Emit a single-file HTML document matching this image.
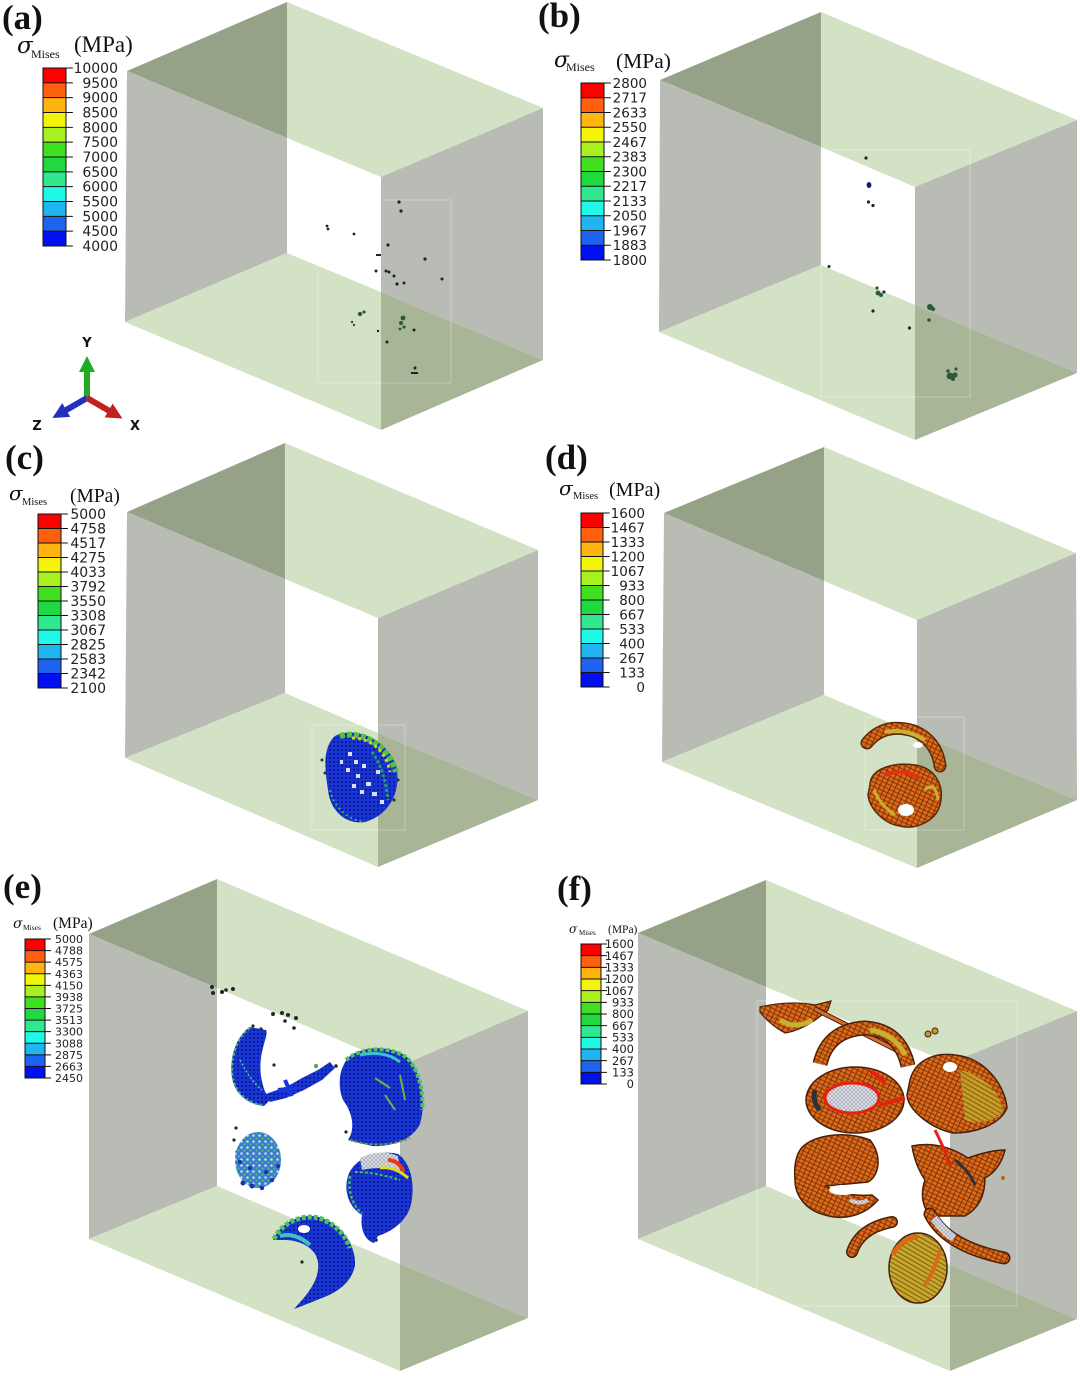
<!DOCTYPE html>
<html><head><meta charset="utf-8"><style>
html,body{margin:0;padding:0;background:#fff;}
svg{display:block;}
.lab{font-family:"Liberation Serif",serif;font-weight:bold;font-size:35px;fill:#111;}
.ser{font-family:"Liberation Serif",serif;fill:#111;}
.sig{font-family:"DejaVu Serif","Liberation Serif",serif;font-style:italic;fill:#111;}
.num{font-family:"DejaVu Sans","Liberation Sans",sans-serif;fill:#222;text-anchor:end;}
</style></head><body>
<svg width="1080" height="1376" viewBox="0 0 1080 1376" xmlns="http://www.w3.org/2000/svg">
<defs>
<g id="lbar">
<rect x="0" y="0" width="1" height="1" fill="#ff0000"/>
<rect x="0" y="1" width="1" height="1" fill="#ff6010"/>
<rect x="0" y="2" width="1" height="1" fill="#ffb410"/>
<rect x="0" y="3" width="1" height="1" fill="#f2f50a"/>
<rect x="0" y="4" width="1" height="1" fill="#a8f020"/>
<rect x="0" y="5" width="1" height="1" fill="#40e020"/>
<rect x="0" y="6" width="1" height="1" fill="#20d840"/>
<rect x="0" y="7" width="1" height="1" fill="#30e890"/>
<rect x="0" y="8" width="1" height="1" fill="#20f8e8"/>
<rect x="0" y="9" width="1" height="1" fill="#20b4f0"/>
<rect x="0" y="10" width="1" height="1" fill="#1e64f0"/>
<rect x="0" y="11" width="1" height="1" fill="#0010f0"/>
<path d="M0 1H1.3M0 2H1.3M0 3H1.3M0 4H1.3M0 5H1.3M0 6H1.3M0 7H1.3M0 8H1.3M0 9H1.3M0 10H1.3M0 11H1.3M1 0H1.3M1 12H1.3" stroke="#111" stroke-width="1" fill="none" vector-effect="non-scaling-stroke"/>
<rect x="0" y="0" width="1" height="12" fill="none" stroke="#111" stroke-width="1" vector-effect="non-scaling-stroke"/>
</g>
<pattern id="vb" width="4" height="4" patternUnits="userSpaceOnUse">
<rect width="4" height="4" fill="#1a36d6"/><circle cx="2" cy="2" r="1.2" fill="#0a1c9a"/>
</pattern>
<pattern id="vo" width="5" height="4" patternUnits="userSpaceOnUse" patternTransform="rotate(25)">
<rect width="5" height="4" fill="#de6a18"/><path d="M0 3.5H5M4.5 0V4" stroke="#6a2a08" stroke-width="0.8"/>
</pattern>
<pattern id="vy" width="4" height="4" patternUnits="userSpaceOnUse" patternTransform="rotate(30)">
<rect width="4" height="4" fill="#c8a82a"/><path d="M0 3.5H4" stroke="#6a4a10" stroke-width="0.8"/>
</pattern>
<pattern id="vm" width="4" height="4" patternUnits="userSpaceOnUse">
<rect width="4" height="4" fill="#d8dce4"/><path d="M0 0L4 4M4 0L0 4" stroke="#8a8e98" stroke-width="0.5"/>
</pattern>
<pattern id="vs" width="6" height="6" patternUnits="userSpaceOnUse">
<rect width="6" height="6" fill="#3a7cc8"/><circle cx="1.5" cy="1.5" r="1.3" fill="#fff" opacity="0.7"/><circle cx="4.5" cy="4.5" r="1.2" fill="#40c070"/>
</pattern>
</defs>

<!-- ===== Panel (a) ===== -->
<polygon points="287,2 543,108 381,177 287,138" fill="#d3e1c4"/>
<polygon points="287,2 127,71 287,138" fill="#95a288"/>
<polygon points="287,138 127,71 125,322 287,253" fill="#b9bcb5"/>
<polygon points="381,177 543,108 543,360 381,292" fill="#b9bcb5"/>
<polygon points="381,292 543,360 381,430" fill="#a8b597"/>
<polygon points="287,253 125,322 381,430 381,292" fill="#d3e1c4"/>
<rect x="318" y="200" width="133" height="183" fill="none" stroke="#fff" stroke-opacity="0.3" stroke-width="1"/>
<g fill="#1c261c">
<circle cx="399" cy="202" r="1.6"/><circle cx="401" cy="211" r="1.6"/><circle cx="327" cy="226" r="1.4"/><circle cx="328" cy="229" r="1.4"/>
<circle cx="354" cy="234" r="1.4"/><circle cx="388" cy="245" r="1.6"/><rect x="376" y="254" width="5" height="2"/><circle cx="425" cy="259" r="1.6"/>
<circle cx="376" cy="271" r="1.5"/><circle cx="386" cy="271" r="1.5"/><circle cx="389" cy="272" r="1.5"/><circle cx="394" cy="276" r="1.5"/>
<circle cx="404" cy="283" r="1.5"/><circle cx="397" cy="284" r="1.6"/><circle cx="442" cy="279" r="1.5"/>
<circle cx="378" cy="331" r="1.2"/><circle cx="387" cy="342" r="1.5"/><circle cx="414" cy="330" r="1.5"/>
<circle cx="415" cy="368" r="1.5"/><rect x="411" y="372" width="7" height="2"/>
</g>
<g fill="#2a5a34">
<circle cx="360" cy="314" r="2.2"/><circle cx="364" cy="312" r="1.6"/><circle cx="352" cy="322" r="1.2"/><circle cx="354" cy="325" r="1.2"/>
<circle cx="403" cy="318" r="2.4"/><circle cx="401" cy="323" r="2"/><circle cx="404" cy="327" r="1.6"/><circle cx="400" cy="329" r="1.4"/>
</g>
<!-- triad -->
<g transform="translate(87,398)">
<g transform="rotate(-90)"><rect x="0" y="-3" width="28" height="6" fill="#22aa22"/><polygon points="26,-8 42,0 26,8" fill="#22aa22"/></g>
<g transform="rotate(150)"><rect x="0" y="-3" width="26" height="6" fill="#2030c0"/><polygon points="24,-8 40,0 24,8" fill="#2030c0"/></g>
<g transform="rotate(30)"><rect x="0" y="-3" width="27" height="6" fill="#c02020"/><polygon points="25,-8 41,0 25,8" fill="#c02020"/></g>
</g>
<g font-family="DejaVu Sans, sans-serif" font-weight="bold" font-size="13" fill="#111" text-anchor="middle">
<text x="87" y="347">Y</text><text x="37" y="430">Z</text><text x="135" y="430">X</text>
</g>
<text class="lab" x="2" y="29">(a)</text>
<text class="sig" x="17" y="53" font-size="23">σ</text>
<text class="ser" x="31" y="58" font-size="12">Mises</text>
<text class="ser" x="74" y="52" font-size="23">(MPa)</text>
<use href="#lbar" transform="translate(43,68) scale(23,14.833)"/>
<g class="num" font-size="14">
<text x="118" y="73">10000</text><text x="118" y="87.8">9500</text><text x="118" y="102.7">9000</text><text x="118" y="117.5">8500</text>
<text x="118" y="132.3">8000</text><text x="118" y="147.2">7500</text><text x="118" y="162">7000</text><text x="118" y="176.8">6500</text>
<text x="118" y="191.7">6000</text><text x="118" y="206.5">5500</text><text x="118" y="221.3">5000</text><text x="118" y="236.2">4500</text>
<text x="118" y="251">4000</text>
</g>

<!-- ===== Panel (b) ===== -->
<polygon points="821,12 1077,120 915,187 821,147" fill="#d3e1c4"/>
<polygon points="821,12 660,80 821,147" fill="#95a288"/>
<polygon points="821,147 660,80 659,332 821,265" fill="#b9bcb5"/>
<polygon points="915,187 1077,120 1077,373 915,305" fill="#b9bcb5"/>
<polygon points="915,305 1077,373 915,440" fill="#a8b597"/>
<polygon points="821,265 659,332 915,440 915,305" fill="#d3e1c4"/>
<rect x="821" y="150" width="149" height="247" fill="none" stroke="#fff" stroke-opacity="0.3" stroke-width="1"/>
<g fill="#1c261c">
<circle cx="866" cy="158" r="1.6"/><ellipse cx="869" cy="185" rx="2.4" ry="3" fill="#10206a"/><circle cx="868.5" cy="202" r="1.6"/><circle cx="873" cy="205.5" r="1.6"/>
<circle cx="829" cy="266.5" r="1.5"/><circle cx="884" cy="292" r="1.5"/><circle cx="873" cy="311" r="1.6"/><circle cx="909.5" cy="328" r="1.6"/>
</g>
<g fill="#2a5a34">
<circle cx="877" cy="288" r="1.6"/><circle cx="878" cy="293" r="2.4"/><circle cx="881" cy="295" r="2"/>
<circle cx="930" cy="307" r="3"/><circle cx="933" cy="309" r="2.2"/><circle cx="929" cy="320" r="1.8"/>
<circle cx="950" cy="376" r="3.4"/><circle cx="955" cy="375" r="2.6"/><circle cx="948" cy="371" r="1.8"/><circle cx="956" cy="369" r="1.6"/><circle cx="953" cy="379" r="2"/>
</g>
<text class="lab" x="538" y="27">(b)</text>
<text class="sig" x="554" y="67" font-size="22">σ</text>
<text class="ser" x="566" y="71" font-size="12">Mises</text>
<text class="ser" x="616" y="68" font-size="21.5">(MPa)</text>
<use href="#lbar" transform="translate(581,83) scale(23,14.75)"/>
<g class="num" font-size="13.5">
<text x="647" y="87.9">2800</text><text x="647" y="102.7">2717</text><text x="647" y="117.4">2633</text><text x="647" y="132.2">2550</text>
<text x="647" y="146.9">2467</text><text x="647" y="161.7">2383</text><text x="647" y="176.4">2300</text><text x="647" y="191.2">2217</text>
<text x="647" y="205.9">2133</text><text x="647" y="220.7">2050</text><text x="647" y="235.4">1967</text><text x="647" y="250.2">1883</text>
<text x="647" y="264.9">1800</text>
</g>

<!-- ===== Panel (c) ===== -->
<polygon points="285,443 538,550 378,618 285,579" fill="#d3e1c4"/>
<polygon points="285,443 127,512 285,579" fill="#95a288"/>
<polygon points="285,579 127,512 125,758 285,693" fill="#b9bcb5"/>
<polygon points="378,618 538,550 538,800 378,733" fill="#b9bcb5"/>
<polygon points="378,733 538,800 378,867" fill="#a8b597"/>
<polygon points="285,693 125,758 378,867 378,733" fill="#d3e1c4"/>
<rect x="312" y="725" width="93" height="105" fill="none" stroke="#fff" stroke-opacity="0.3" stroke-width="1"/>
<path d="M335,736 C355,726 385,738 396,765 C402,790 390,815 365,822 C345,825 330,810 328,790 C325,770 322,748 335,736 Z" fill="url(#vb)"/>
<path d="M340,736 C362,730 388,745 396,772" fill="none" stroke="#58c040" stroke-width="6" stroke-dasharray="5 2"/>
<path d="M352,738 C372,738 386,752 390,772" fill="none" stroke="#c8d830" stroke-width="3" stroke-dasharray="3 3"/>
<g fill="#fff" opacity="0.85">
<rect x="348" y="752" width="4" height="4"/><rect x="354" y="760" width="4" height="4"/><rect x="346" y="768" width="4" height="4"/><rect x="356" y="774" width="4" height="4"/>
<rect x="362" y="764" width="4" height="4"/><rect x="352" y="784" width="4" height="4"/><rect x="366" y="782" width="5" height="4"/><rect x="372" y="792" width="5" height="4"/>
<rect x="360" y="790" width="4" height="4"/><rect x="340" y="760" width="3" height="4"/><rect x="376" y="770" width="4" height="4"/><rect x="380" y="800" width="4" height="4"/>
</g>
<path d="M330,790 C334,808 348,820 365,822" fill="none" stroke="#40a878" stroke-width="2" stroke-dasharray="2 3"/>
<path d="M372,752 Q385,770 388,800" fill="none" stroke="#2a9a70" stroke-width="3" stroke-dasharray="3 2"/>
<g fill="#1c3a3a"><circle cx="322" cy="760" r="1.5"/><circle cx="325" cy="773" r="1.5"/><circle cx="394" cy="800" r="1.6"/><circle cx="398" cy="780" r="1.5"/></g>
<text class="lab" x="5" y="469">(c)</text>
<text class="sig" x="9" y="500" font-size="20">σ</text>
<text class="ser" x="22" y="505" font-size="10.5">Mises</text>
<text class="ser" x="70" y="502" font-size="19.5">(MPa)</text>
<use href="#lbar" transform="translate(38,514) scale(23,14.5)"/>
<g class="num" font-size="14">
<text x="106" y="519">5000</text><text x="106" y="533.5">4758</text><text x="106" y="548">4517</text><text x="106" y="562.5">4275</text>
<text x="106" y="577">4033</text><text x="106" y="591.5">3792</text><text x="106" y="606">3550</text><text x="106" y="620.5">3308</text>
<text x="106" y="635">3067</text><text x="106" y="649.5">2825</text><text x="106" y="664">2583</text><text x="106" y="678.5">2342</text>
<text x="106" y="693">2100</text>
</g>

<!-- ===== Panel (d) ===== -->
<polygon points="824,447 1076,553 917,620 824,581" fill="#d3e1c4"/>
<polygon points="824,447 664,513 824,581" fill="#95a288"/>
<polygon points="824,581 664,513 662,762 824,695" fill="#b9bcb5"/>
<polygon points="917,620 1076,553 1077,800 917,734" fill="#b9bcb5"/>
<polygon points="917,734 1077,800 917,868" fill="#a8b597"/>
<polygon points="824,695 662,762 917,868 917,734" fill="#d3e1c4"/>
<rect x="865" y="717" width="99" height="113" fill="none" stroke="#fff" stroke-opacity="0.3" stroke-width="1"/>
<path d="M867,743 Q884,722 914,731 Q937,741 940,766" fill="none" stroke="#5a2808" stroke-width="13" stroke-linecap="round"/>
<path d="M867,743 Q884,722 914,731 Q937,741 940,766" fill="none" stroke="url(#vo)" stroke-width="10" stroke-linecap="round"/>
<path d="M885,732 Q905,728 925,740" fill="none" stroke="#c8b030" stroke-width="4"/>
<path d="M870,785 C870,768 895,762 915,765 C935,768 945,785 940,805 C935,822 915,830 900,826 C885,824 870,810 868,795 Z" fill="url(#vo)" stroke="#5a2808" stroke-width="1.5"/>
<path d="M885,775 Q902,768 920,778" fill="none" stroke="#e83010" stroke-width="4"/>
<path d="M874,790 Q880,805 895,815" fill="none" stroke="#c8b030" stroke-width="3"/>
<ellipse cx="906" cy="810" rx="8" ry="6" fill="#fff"/>
<ellipse cx="918" cy="745" rx="5" ry="3" fill="#fff"/>
<path d="M925,790 Q935,780 938,800" fill="none" stroke="#c8b030" stroke-width="3"/>
<text class="lab" x="545" y="469">(d)</text>
<text class="sig" x="559" y="495" font-size="20">σ</text>
<text class="ser" x="573" y="499" font-size="10.5">Mises</text>
<text class="ser" x="609" y="496" font-size="20">(MPa)</text>
<use href="#lbar" transform="translate(581,513) scale(22,14.5)"/>
<g class="num" font-size="13.5">
<text x="645" y="517.9">1600</text><text x="645" y="532.4">1467</text><text x="645" y="546.9">1333</text><text x="645" y="561.4">1200</text>
<text x="645" y="575.9">1067</text><text x="645" y="590.4">933</text><text x="645" y="604.9">800</text><text x="645" y="619.4">667</text>
<text x="645" y="633.9">533</text><text x="645" y="648.4">400</text><text x="645" y="662.9">267</text><text x="645" y="677.4">133</text>
<text x="645" y="691.9">0</text>
</g>

<!-- ===== Panel (e) ===== -->
<polygon points="217,879 528,1011 400,1066 217,988" fill="#d3e1c4"/>
<polygon points="217,879 89,934 217,988" fill="#95a288"/>
<polygon points="217,988 89,934 89,1239 217,1186" fill="#b9bcb5"/>
<polygon points="400,1066 528,1011 528,1318 400,1264" fill="#b9bcb5"/>
<polygon points="400,1264 528,1318 400,1371" fill="#a8b597"/>
<polygon points="217,1186 89,1239 400,1371 400,1264" fill="#d3e1c4"/>
<g fill="#1c2a22">
<circle cx="212" cy="987" r="2"/><circle cx="213" cy="993" r="2"/><circle cx="222" cy="992" r="2"/><circle cx="226" cy="990" r="1.8"/><circle cx="233" cy="989" r="2"/>
<circle cx="273" cy="1014" r="2"/><circle cx="282" cy="1013" r="2"/><circle cx="288" cy="1015" r="2"/><circle cx="296" cy="1018" r="2"/><circle cx="285" cy="1021" r="1.8"/><circle cx="294" cy="1028" r="1.8"/>
<circle cx="253" cy="1026" r="1.6"/><circle cx="261" cy="1029" r="1.6"/>
<circle cx="274" cy="1065" r="1.6"/><circle cx="316" cy="1066" r="1.8"/><circle cx="336" cy="1066" r="1.8"/>
<circle cx="234" cy="1140" r="1.6"/><circle cx="237" cy="1152" r="1.6"/><circle cx="236" cy="1128" r="1.6"/>
<circle cx="354" cy="1117" r="1.8"/><circle cx="346" cy="1132" r="1.6"/><circle cx="302" cy="1262" r="1.6"/><circle cx="376" cy="1240" r="1.8"/><circle cx="388" cy="1228" r="1.8"/>
</g>
<circle cx="316" cy="1066" r="2" fill="#50a050"/>
<path d="M250,1027 C236,1036 229,1058 232,1078 C235,1094 248,1104 264,1106 L270,1100 C262,1090 258,1070 262,1052 C264,1042 268,1034 266,1030 Z" fill="url(#vb)"/>
<path d="M250,1028 C236,1038 230,1060 233,1078 C236,1094 248,1103 262,1105" fill="none" stroke="#48b070" stroke-width="2" stroke-dasharray="3 2"/>
<path d="M240,1060 Q250,1080 262,1090" fill="none" stroke="#40c8b0" stroke-width="1.5" stroke-dasharray="2 2"/>
<path d="M266,1094 L288,1086 L302,1078 L318,1070 L330,1062 L335,1068 L322,1080 L304,1090 L286,1098 L270,1102 Z" fill="url(#vb)"/>
<path d="M285,1080 L292,1096 M278,1090 L296,1088" stroke="#1a36d6" stroke-width="4"/>
<ellipse cx="258" cy="1160" rx="23" ry="28" fill="url(#vs)"/>
<g fill="#1a30b0"><circle cx="243" cy="1183" r="2.5"/><circle cx="252" cy="1186" r="2.5"/><circle cx="262" cy="1188" r="2.2"/><circle cx="272" cy="1180" r="2.2"/><circle cx="278" cy="1166" r="2"/><circle cx="240" cy="1162" r="2"/><circle cx="250" cy="1168" r="2"/><circle cx="266" cy="1172" r="2"/></g>
<path d="M348,1058 C360,1046 392,1044 408,1058 C422,1074 426,1104 420,1124 C412,1140 392,1147 372,1146 L348,1140 C356,1128 352,1112 343,1100 C338,1088 338,1070 348,1058 Z" fill="url(#vb)"/>
<path d="M346,1060 C360,1047 392,1045 408,1059 C420,1072 424,1095 422,1110" fill="none" stroke="#50c060" stroke-width="4" stroke-dasharray="4 2"/>
<path d="M360,1055 Q385,1050 400,1062" fill="none" stroke="#40c0d0" stroke-width="3"/>
<path d="M375,1078 L390,1088 M400,1075 L405,1100 M385,1095 L395,1110" stroke="#70b050" stroke-width="2"/>
<path d="M350,1140 Q380,1150 410,1138" fill="none" stroke="#60a040" stroke-width="2" stroke-dasharray="3 2"/>
<path d="M348,1176 C354,1158 378,1149 398,1154 C412,1164 416,1188 410,1208 C404,1224 390,1232 378,1236 L374,1243 C364,1240 360,1228 362,1215 C350,1208 343,1192 348,1176 Z" fill="url(#vb)"/>
<path d="M360,1158 Q380,1148 398,1156 L400,1170 Q380,1166 362,1170 Z" fill="url(#vm)"/>
<path d="M388,1160 Q398,1160 404,1172" fill="none" stroke="#e83818" stroke-width="4"/>
<path d="M380,1168 Q395,1166 408,1178" fill="none" stroke="#e8d820" stroke-width="3"/>
<path d="M350,1176 C348,1192 352,1204 362,1214" fill="none" stroke="#48b070" stroke-width="2.5" stroke-dasharray="3 2"/>
<path d="M355,1172 Q375,1172 400,1180" fill="none" stroke="#50b850" stroke-width="2" stroke-dasharray="3 2"/>
<path d="M273,1240 C282,1220 305,1212 322,1218 C342,1226 356,1245 355,1265 C352,1282 338,1292 322,1298 C312,1302 302,1306 294,1309 C310,1292 320,1278 318,1262 C316,1248 300,1240 285,1240 Z" fill="url(#vb)"/>
<path d="M274,1239 C283,1221 305,1213 322,1219 C336,1225 346,1236 350,1248" fill="none" stroke="#50c060" stroke-width="5" stroke-dasharray="4 2"/>
<path d="M280,1236 Q295,1232 310,1245" fill="none" stroke="#40c0c0" stroke-width="4"/>
<ellipse cx="304" cy="1229" rx="6" ry="4" fill="#fff"/>
<text class="lab" x="3" y="898">(e)</text>
<text class="sig" x="13" y="928" font-size="14">σ</text>
<text class="ser" x="23" y="930" font-size="7.5">Mises</text>
<text class="ser" x="53" y="928" font-size="15.5">(MPa)</text>
<use href="#lbar" transform="translate(25,939) scale(20,11.583)"/>
<g class="num" font-size="11">
<text x="83" y="943">5000</text><text x="83" y="954.6">4788</text><text x="83" y="966.2">4575</text><text x="83" y="977.8">4363</text>
<text x="83" y="989.3">4150</text><text x="83" y="1000.9">3938</text><text x="83" y="1012.5">3725</text><text x="83" y="1024.1">3513</text>
<text x="83" y="1035.7">3300</text><text x="83" y="1047.3">3088</text><text x="83" y="1058.8">2875</text><text x="83" y="1070.4">2663</text>
<text x="83" y="1082">2450</text>
</g>

<!-- ===== Panel (f) ===== -->
<polygon points="766,880 1077,1011 950,1063 766,987" fill="#d3e1c4"/>
<polygon points="766,880 638,933 766,987" fill="#95a288"/>
<polygon points="766,987 638,933 638,1239 766,1186" fill="#b9bcb5"/>
<polygon points="950,1063 1077,1011 1077,1319 950,1265" fill="#b9bcb5"/>
<polygon points="950,1265 1077,1319 950,1371" fill="#a8b597"/>
<polygon points="766,1186 638,1239 950,1371 950,1265" fill="#d3e1c4"/>
<rect x="757" y="1001" width="260" height="305" fill="none" stroke="#fff" stroke-opacity="0.3" stroke-width="1"/>
<path d="M760,1007 Q790,1000 815,1005 L831,1001 L828,1010 Q805,1030 785,1033 Q770,1025 760,1012 Z" fill="url(#vo)" stroke="#4a2008" stroke-width="1.2"/>
<path d="M780,1020 Q795,1030 812,1020" fill="none" stroke="#c8b030" stroke-width="5"/>
<line x1="815" y1="1009" x2="912" y2="1058" stroke="#4a2008" stroke-width="5"/>
<line x1="815" y1="1009" x2="912" y2="1058" stroke="#d07030" stroke-width="3"/>
<path d="M820,1064 Q828,1030 865,1028 Q900,1030 908,1066" fill="none" stroke="#4a2008" stroke-width="15"/>
<path d="M820,1064 Q828,1030 865,1028 Q900,1030 908,1066" fill="none" stroke="url(#vo)" stroke-width="12"/>
<path d="M870,1030 Q895,1034 905,1055" fill="none" stroke="#c8b030" stroke-width="5"/>
<ellipse cx="855" cy="1100" rx="49" ry="33" fill="url(#vo)" stroke="#4a2008" stroke-width="1.5"/>
<ellipse cx="852" cy="1098" rx="27" ry="15" fill="url(#vm)" stroke="#e82010" stroke-width="3"/>
<path d="M815,1090 Q812,1102 820,1110" fill="none" stroke="#303038" stroke-width="5"/>
<path d="M870,1072 Q880,1075 885,1085" fill="none" stroke="#e82010" stroke-width="4"/>
<path d="M880,1105 L905,1098" stroke="#e82010" stroke-width="4"/>
<path d="M910,1080 C915,1060 935,1052 955,1055 C985,1058 1005,1085 1007,1108 C1000,1125 975,1133 953,1133 C930,1128 908,1110 907,1095 Z" fill="url(#vo)" stroke="#4a2008" stroke-width="1.5"/>
<path d="M960,1070 C985,1075 1002,1095 1003,1112 C995,1122 975,1125 965,1120 Z" fill="url(#vy)" opacity="0.85"/>
<ellipse cx="950" cy="1067" rx="7" ry="5" fill="#fff"/>
<path d="M800,1150 C810,1135 845,1130 870,1140 C882,1155 880,1175 868,1182 L826,1186 C840,1195 858,1196 872,1195 L878,1200 C865,1215 845,1221 825,1215 C805,1210 795,1195 795,1180 C794,1168 795,1158 800,1150 Z" fill="url(#vo)" stroke="#4a2008" stroke-width="1.5"/>
<ellipse cx="843" cy="1190" rx="14" ry="5" fill="#fff"/>
<path d="M850,1200 Q860,1205 868,1200" fill="none" stroke="url(#vm)" stroke-width="4"/>
<path d="M912,1146 Q940,1140 968,1158 Q990,1150 1005,1150 Q1000,1170 985,1178 Q985,1205 965,1216 L930,1216 Q918,1200 925,1180 Q915,1165 912,1146 Z" fill="url(#vo)" stroke="#4a2008" stroke-width="1.5"/>
<path d="M955,1160 Q970,1172 975,1185" fill="none" stroke="#303038" stroke-width="3"/>
<path d="M935,1130 Q945,1150 950,1165" fill="none" stroke="#e82010" stroke-width="3"/>
<path d="M852,1252 Q860,1228 892,1222" fill="none" stroke="#4a2008" stroke-width="12" stroke-linecap="round"/>
<path d="M852,1252 Q860,1228 892,1222" fill="none" stroke="url(#vo)" stroke-width="9" stroke-linecap="round"/>
<path d="M930,1214 Q946,1246 1004,1258" fill="none" stroke="#4a2008" stroke-width="13" stroke-linecap="round"/>
<path d="M930,1214 Q946,1246 1004,1258" fill="none" stroke="url(#vo)" stroke-width="10" stroke-linecap="round"/>
<path d="M934,1218 Q944,1232 954,1238" fill="none" stroke="url(#vm)" stroke-width="8"/>
<ellipse cx="918" cy="1268" rx="29" ry="35" fill="url(#vy)" stroke="#4a2008" stroke-width="1.5"/>
<path d="M893,1255 Q900,1240 918,1236" fill="none" stroke="#d86a18" stroke-width="5"/>
<path d="M925,1285 Q935,1270 940,1250" fill="none" stroke="#d86a18" stroke-width="4"/>
<circle cx="928" cy="1034" r="3" fill="#b8a030" stroke="#4a2008" stroke-width="1"/>
<circle cx="935" cy="1031" r="3" fill="#b8a030" stroke="#4a2008" stroke-width="1"/>
<circle cx="1003" cy="1178" r="2" fill="#c06020"/>
<text class="lab" x="557" y="900">(f)</text>
<text class="sig" x="569" y="933" font-size="12">σ</text>
<text class="ser" x="579" y="935" font-size="7">Mises</text>
<text class="ser" x="608" y="933" font-size="11.5">(MPa)</text>
<use href="#lbar" transform="translate(581,944) scale(20,11.667)"/>
<g class="num" font-size="11.5">
<text x="634" y="948.1">1600</text><text x="634" y="959.8">1467</text><text x="634" y="971.4">1333</text><text x="634" y="983.1">1200</text>
<text x="634" y="994.8">1067</text><text x="634" y="1006.4">933</text><text x="634" y="1018.1">800</text><text x="634" y="1029.8">667</text>
<text x="634" y="1041.4">533</text><text x="634" y="1053.1">400</text><text x="634" y="1064.8">267</text><text x="634" y="1076.4">133</text>
<text x="634" y="1088.1">0</text>
</g>
</svg>
</body></html>
